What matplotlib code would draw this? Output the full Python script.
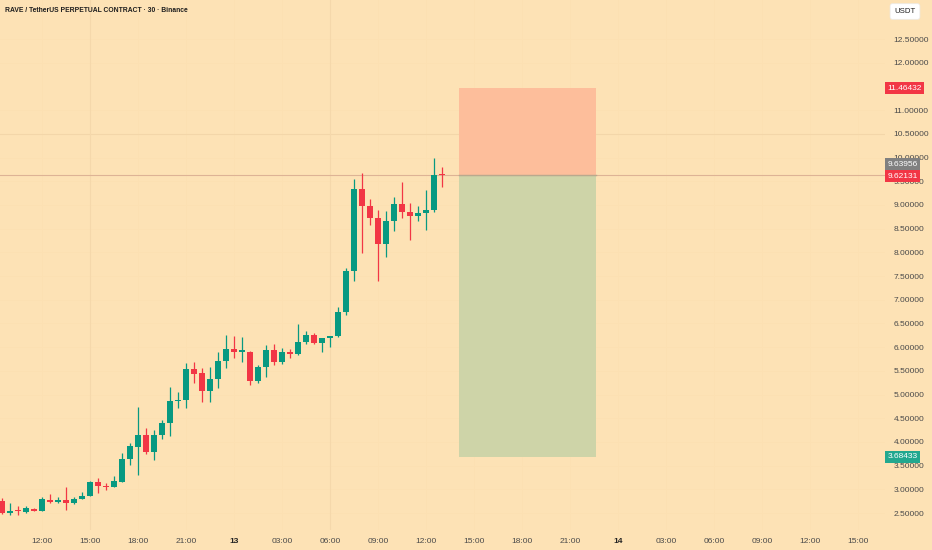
import matplotlib
matplotlib.use('Agg')
import matplotlib.pyplot as plt
import numpy as np

# ---- data (30-minute candles, RAVE/USDT) ----
opens = [2.760, 2.501, 2.574, 2.522, 2.585, 2.543, 2.774, 2.732, 2.774, 2.711,
         2.796, 2.859, 3.154, 3.070, 3.049, 3.154, 3.639, 3.893, 4.146, 3.787,
         4.146, 4.399, 4.863, 4.884, 5.538, 5.454, 5.074, 5.327, 5.707, 5.960,
         5.907, 5.897, 5.285, 5.580, 5.939, 5.686, 5.897, 5.855, 6.108, 6.256,
         6.087, 6.192, 6.234, 6.741, 7.606, 9.336, 8.977, 8.724, 8.175, 8.661,
         9.019, 8.850, 8.766, 8.829, 8.893, 9.645]
highs = [2.817, 2.711, 2.648, 2.648, 2.606, 2.838, 2.901, 2.838, 3.049, 2.838,
         2.943, 3.175, 3.239, 3.133, 3.281, 3.766, 3.977, 4.737, 4.293, 4.251,
         4.462, 5.158, 5.053, 5.665, 5.686, 5.559, 5.580, 5.897, 6.256, 6.234,
         6.213, 5.910, 5.623, 6.045, 6.066, 5.981, 5.960, 6.488, 6.340, 6.298,
         6.200, 6.240, 6.846, 7.669, 9.547, 9.673, 9.125, 8.893, 8.872, 9.167,
         9.483, 9.040, 8.977, 9.315, 9.990, 9.800]
lows = [2.479, 2.458, 2.458, 2.510, 2.535, 2.535, 2.711, 2.720, 2.564, 2.700,
        2.790, 2.850, 2.922, 2.985, 3.040, 3.150, 3.513, 3.302, 3.745, 3.618,
        4.061, 4.125, 4.715, 4.715, 5.243, 4.842, 4.842, 5.137, 5.559, 5.770,
        5.686, 5.201, 5.243, 5.369, 5.623, 5.644, 5.770, 5.834, 6.066, 6.066,
        5.897, 6.002, 6.220, 6.677, 7.395, 7.985, 8.576, 7.395, 7.901, 8.450,
        8.724, 8.260, 8.661, 8.471, 8.850, 9.378]
closes = [2.501, 2.543, 2.553, 2.606, 2.543, 2.796, 2.732, 2.774, 2.711, 2.796,
          2.859, 3.154, 3.070, 3.049, 3.175, 3.639, 3.914, 4.146, 3.787, 4.146,
          4.399, 4.863, 4.884, 5.538, 5.433, 5.074, 5.327, 5.707, 5.960, 5.897,
          5.929, 5.285, 5.580, 5.939, 5.686, 5.897, 5.855, 6.108, 6.256, 6.087,
          6.192, 6.234, 6.741, 7.606, 9.336, 8.977, 8.724, 8.175, 8.661, 9.019,
          8.850, 8.766, 8.829, 8.893, 9.640, 9.62131]

# tick positions in candle units (0 = 09:30 on the 12th)
time_ticks = [5, 11, 17, 23, 29, 35, 41, 47, 53, 59, 65, 71, 77, 83, 89, 95, 101, 107]
time_labels = ['12:00', '15:00', '18:00', '21:00', '13', '03:00', '06:00', '09:00',
               '12:00', '15:00', '18:00', '21:00', '14', '03:00', '06:00', '09:00',
               '12:00', '15:00']
bold_labels = ['13', '14']
price_ticks = [2.5, 3.0, 3.5, 4.0, 4.5, 5.0, 5.5, 6.0, 6.5, 7.0, 7.5, 8.0, 8.5,
               9.0, 9.5, 10.0, 10.5, 11.0, 12.0, 12.5]

stop_price = 11.46432
entry_price = 9.63956
last_price = 9.62131
target_price = 3.68433
box_start = 57.1
box_end = 74.25

title = 'RAVE / TetherUS PERPETUAL CONTRACT · 30 · Binance'

# ---- style ----
BG = '#FDE2B5'
UP = '#089981'
DOWN = '#F23645'
TXT = '#4A4A4A'
FONT = 'Liberation Sans'

fig = plt.figure(figsize=(9.32, 5.5), dpi=100)
fig.patch.set_facecolor(BG)
ax = fig.add_axes([0, 20 / 550, 885 / 932, 530 / 550])
ax.set_facecolor(BG)

x = np.arange(len(opens))
o = np.array(opens); c = np.array(closes)
h = np.array(highs); l = np.array(lows)
up = c >= o
cols = np.where(up, UP, DOWN)

# very faint grid, a few lines slightly visible
for t in time_ticks:
    ax.axvline(t, color='#FCE0B2', lw=0.6, zorder=0)
for p in price_ticks:
    ax.axhline(p, color='#FCE0B2', lw=0.6, zorder=0)
ax.axhline(10.5, color='#F3D6A9', lw=0.8, zorder=0.5)
ax.axvline(11, color='#F5D8AB', lw=0.8, zorder=0.5)
ax.axvline(41, color='#F5D8AB', lw=0.8, zorder=0.5)

# position tool
ax.fill_between([box_start, box_end], entry_price, stop_price, color='#FDBE9B', lw=0, zorder=1)
ax.fill_between([box_start, box_end], target_price, entry_price, color='#CED4A8', lw=0, zorder=1)
ax.plot([box_start, box_end], [entry_price, entry_price], color='#B9A98E', lw=1.0, zorder=1.5)

# last price line
ax.axhline(last_price, color='#DDB395', lw=0.8, zorder=1.2)

# candles
ax.vlines(x, l, h, colors=cols, lw=0.9, zorder=3)
body_bottom = np.minimum(o, c)
body_h = np.maximum(np.abs(c - o), 0.02)
ax.bar(x, body_h, bottom=body_bottom, width=0.75, color=cols, lw=0, zorder=4)

ax.set_xlim(-0.25, 110.375)
ax.set_ylim(2.142, 13.323)

for s in ax.spines.values():
    s.set_visible(False)

ax.yaxis.tick_right()
ax.set_yticks(price_ticks)
ax.set_yticklabels([f'{p:.5f}' for p in price_ticks])
ax.tick_params(axis='y', length=0, pad=6, labelsize=6.0, labelcolor=TXT)
ax.set_xticks(time_ticks)
ax.set_xticklabels(time_labels)
ax.tick_params(axis='x', length=0, pad=5.5, labelsize=6.0, labelcolor=TXT)
for lab in ax.get_xticklabels() + ax.get_yticklabels():
    lab.set_fontfamily(FONT)
    if lab.get_text() in bold_labels:
        lab.set_fontweight('bold')
        lab.set_color('#222222')

# price badges on the axis (entry badge is stacked above the last-price badge)
ytr = ax.get_yaxis_transform()
badges = [(stop_price, DOWN, 0), (entry_price, '#808080', 7.3),
          (last_price, DOWN, -0.6), (target_price, '#22A88F', 0)]
for val, col, dy in badges:
    ax.annotate(f'{val:.5f}', xy=(1.0025, val), xycoords=ytr,
                xytext=(0, dy), textcoords='offset points',
                ha='left', va='center', fontsize=6.0, color='white', family=FONT,
                zorder=10, annotation_clip=False,
                bbox=dict(boxstyle='square,pad=0.3', fc=col, ec='none'))

# title and currency box
fig.text(5 / 932, 1 - 10 / 550, title, ha='left', va='center', fontsize=4.9,
         fontweight='bold', color='#1E1E1E', family=FONT)
fig.text(905 / 932, 1 - 11.5 / 550, 'USDT', ha='center', va='center', fontsize=5.6,
         color='#1E1E1E', family=FONT,
         bbox=dict(boxstyle='round,pad=0.55,rounding_size=0.3', fc='white', ec='#EAEAEA', lw=0.5))

fig.savefig('out.png', dpi=100, facecolor=BG)
